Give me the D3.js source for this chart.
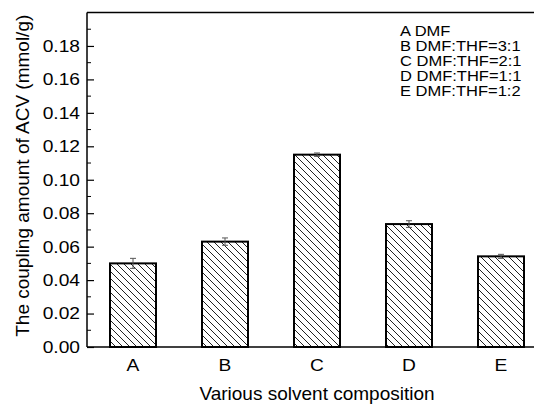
<!DOCTYPE html>
<html>
<head>
<meta charset="utf-8">
<script src="https://cdn.jsdelivr.net/npm/d3@7"></script>
<style>
  body { margin: 0; background: #fff; }
  svg { display: block; font-family: "Liberation Sans", Arial, sans-serif; }
</style>
</head>
<body>
<script>
const categories = ["A", "B", "C", "D", "E"];
const values = [0.050, 0.063, 0.115, 0.0735, 0.0542];
const errors = [0.003, 0.0022, 0.001, 0.002, 0.0012];
const yTicks = [0, 0.02, 0.04, 0.06, 0.08, 0.10, 0.12, 0.14, 0.16, 0.18];
const legendLines = ["A DMF", "B DMF:THF=3:1", "C DMF:THF=2:1", "D DMF:THF=1:1", "E DMF:THF=1:2"];

const width = 534, height = 405;
const plotLeft = 87, plotRight = 547, plotTop = 12.5, plotBottom = 347;

const svg = d3.select("body").append("svg")
  .attr("width", width).attr("height", height);

// hatch pattern
const pat = svg.append("defs").append("pattern")
  .attr("id", "hatch")
  .attr("patternUnits", "userSpaceOnUse")
  .attr("width", 7).attr("height", 7);
pat.append("path")
  .attr("d", "M-1,-1 L8,8 M-8,-1 L1,8 M6,-1 L15,8")
  .attr("stroke", "#222").attr("stroke-width", 1);

const x = d3.scaleBand().domain(categories).range([plotLeft, plotRight])
  .paddingInner(0.5).paddingOuter(0.25);
const y = d3.scaleLinear().domain([0, 0.2]).range([plotBottom, plotTop]);

// bars
svg.selectAll("rect.bar").data(values).enter().append("rect")
  .attr("class", "bar")
  .attr("x", (d, i) => x(categories[i]))
  .attr("y", d => y(d))
  .attr("width", x.bandwidth())
  .attr("height", d => y(0) - y(d))
  .attr("fill", "url(#hatch)")
  .attr("stroke", "#000").attr("stroke-width", 2);

// error bars
const eb = svg.append("g").attr("stroke", "#555").attr("stroke-width", 1);
values.forEach((v, i) => {
  const cx = x(categories[i]) + x.bandwidth() / 2;
  eb.append("line").attr("x1", cx).attr("x2", cx)
    .attr("y1", y(v + errors[i])).attr("y2", y(v - errors[i]));
  [v + errors[i], v - errors[i]].forEach(e => {
    eb.append("line").attr("x1", cx - 3).attr("x2", cx + 3)
      .attr("y1", y(e)).attr("y2", y(e));
  });
});

// frame lines
svg.append("line").attr("x1", plotLeft).attr("x2", width).attr("y1", plotTop).attr("y2", plotTop)
  .attr("stroke", "#000").attr("stroke-width", 1.5);
svg.append("line").attr("x1", plotLeft).attr("x2", width).attr("y1", plotBottom).attr("y2", plotBottom)
  .attr("stroke", "#000").attr("stroke-width", 1.5);

// y axis with inward ticks
const yAxis = svg.append("g").attr("transform", `translate(${plotLeft},0)`)
  .call(d3.axisRight(y).tickValues(yTicks).tickSize(7).tickFormat(d3.format(".2f")));
yAxis.select(".domain").attr("stroke-width", 1.5).attr("d", `M0,${plotTop}V${plotBottom}`);
yAxis.selectAll(".tick line").attr("stroke-width", 1.2);
yAxis.selectAll(".tick text")
  .attr("x", 0).attr("dy", null).attr("y", 0)
  .attr("dominant-baseline", "central")
  .attr("text-anchor", "end")
  .attr("transform", "translate(-7,0) scale(1.2,1)")
  .attr("font-size", 16).attr("fill", "#000");
// minor ticks
const minor = d3.range(0.01, 0.2, 0.02);
svg.append("g").selectAll("line").data(minor).enter().append("line")
  .attr("x1", plotLeft).attr("x2", plotLeft + 4)
  .attr("y1", d => y(d)).attr("y2", d => y(d))
  .attr("stroke", "#000").attr("stroke-width", 1);

// x labels
svg.append("g").selectAll("text").data(categories).enter().append("text")
  .attr("transform", d => `translate(${x(d) + x.bandwidth() / 2},371) scale(1.2,1)`)
  .attr("text-anchor", "middle")
  .attr("font-size", 16)
  .text(d => d);

// axis titles
svg.append("text")
  .attr("x", (plotLeft + plotRight) / 2).attr("y", 400)
  .attr("text-anchor", "middle").attr("font-size", 19)
  .text("Various solvent composition");
svg.append("text")
  .attr("transform", `translate(29,${(plotTop + plotBottom) / 2 - 4}) rotate(-90)`)
  .attr("text-anchor", "middle").attr("font-size", 19)
  .text("The coupling amount of ACV (mmol/g)");

// legend text
svg.append("g").selectAll("text").data(legendLines).enter().append("text")
  .attr("transform", (d, i) => `translate(400,${36 + i * 15}) scale(1.18,1)`)
  .attr("font-size", 14)
  .text(d => d);
</script>
</body>
</html>
